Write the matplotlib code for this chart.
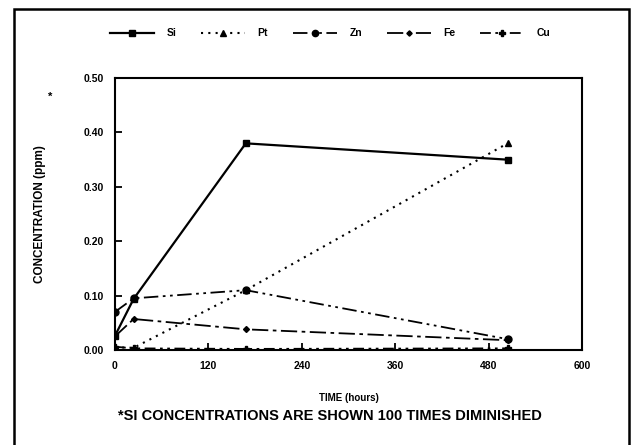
import matplotlib
matplotlib.use("Agg")
import matplotlib.pyplot as plt
from matplotlib.patches import Rectangle

plt.rcParams['font.family'] = ['Liberation Sans', 'DejaVu Sans']
plt.rcParams['font.weight'] = 'bold'

# sampling times (hours)
time = [0, 24, 168, 504]

# concentrations (ppm), Si shown 100 times diminished
si = [0.026, 0.094, 0.380, 0.350]
pt = [0.005, 0.004, 0.110, 0.380]
zn = [0.070, 0.095, 0.110, 0.020]
fe = [0.025, 0.057, 0.038, 0.018]
cu = [0.006, 0.003, 0.002, 0.003]

names = ['Si', 'Pt', 'Zn', 'Fe', 'Cu']
xticks = [0, 120, 240, 360, 480, 600]
yticks = [0.0, 0.1, 0.2, 0.3, 0.4, 0.5]

fig = plt.figure(figsize=(6.35, 4.45), dpi=100)
ax = fig.add_axes([0.181, 0.2135, 0.736, 0.611])

ax.plot(time, si, color='black', lw=1.6, ls='-', marker='s', ms=5, label=names[0])
ax.plot(time, pt, color='black', lw=1.5, ls=(0, (1, 2.5)), marker='^', ms=5, label=names[1])
ax.plot(time, zn, color='black', lw=1.3, ls=(0, (8, 2.5, 1.5, 2.5, 1.5, 2.5)), marker='o', ms=5, label=names[2])
ax.plot(time, fe, color='black', lw=1.3, ls=(0, (9, 2.5, 2, 2.5)), marker='D', ms=3, label=names[3])
ax.plot(time, cu, color='black', lw=1.3, ls=(0, (6, 2.5, 1.5, 2.5, 1.5, 2.5)), marker='P', ms=5, label=names[4])

ax.set_xlim(0, 600)
ax.set_ylim(0, 0.5)
ax.set_xticks(xticks)
ax.set_yticks(yticks)
ax.set_yticklabels(['%.2f' % v for v in yticks])
ax.tick_params(direction='in', length=5, width=1.3, labelsize=7.5, pad=8)
for s in ax.spines.values():
    s.set_linewidth(1.5)

ax.set_xlabel('TIME (hours)', fontsize=7, fontweight='bold', labelpad=16)
ax.set_ylabel('CONCENTRATION (ppm)', fontsize=8.5, fontweight='bold', labelpad=27)
fig.text(0.079, 0.782, '*', fontsize=8, fontweight='bold', ha='center', va='center')

fig.legend(loc='center', bbox_to_anchor=(0.52, 0.925), ncol=5, frameon=False,
           fontsize=7.5, handlelength=4.2, columnspacing=2.4, handletextpad=1.2,
           markerscale=0.9)

fig.text(0.52, 0.065, '*SI CONCENTRATIONS ARE SHOWN 100 TIMES DIMINISHED',
         fontsize=10.5, fontweight='bold', ha='center', va='center')

fig.patches.append(Rectangle((0.022, -0.01), 0.968, 0.99, transform=fig.transFigure,
                             fill=False, lw=1.8, edgecolor='black'))

fig.savefig('out.png', dpi=100)
